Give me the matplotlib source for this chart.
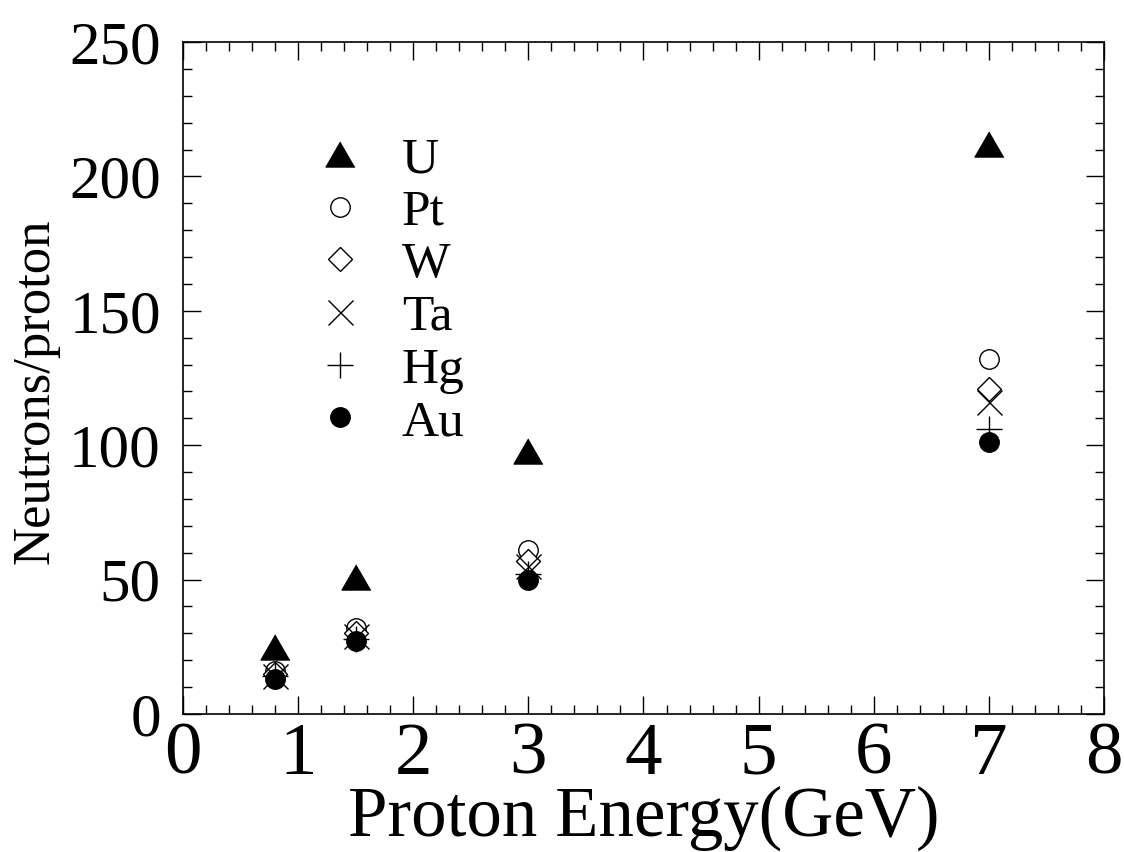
import matplotlib
matplotlib.use("Agg")
import matplotlib.pyplot as plt
from matplotlib.ticker import MultipleLocator
from matplotlib.lines import Line2D

plt.rcParams['font.family'] = ['Liberation Serif', 'DejaVu Serif']

energy = [0.8, 1.5, 3.0, 7.0]
U  = [25, 51, 98, 212]
Pt = [16, 32, 61, 132]
W  = [15, 30, 57, 121]
Ta = [14, 29, 55, 116]
Hg = [14, 28, 52, 106]
Au = [13, 27, 50, 101]

labels = ['U', 'Pt', 'W', 'Ta', 'Hg', 'Au']
series = [U, Pt, W, Ta, Hg, Au]

tri = [(0, 0.5), (-0.577, -0.5), (0.577, -0.5)]
styles = [
    dict(marker=tri, ms=21, mfc='black', mec='black', mew=0.8),
    dict(marker='o', ms=14, mfc='white', mec='black', mew=1.0),
    dict(marker='D', ms=12.5, mfc='white', mec='black', mew=1.0),
    dict(marker='x', ms=18, mfc='none', mec='black', mew=1.0),
    dict(marker='+', ms=19, mfc='none', mec='black', mew=1.0),
    dict(marker='o', ms=14, mfc='black', mec='black', mew=1.0),
]

fig = plt.figure(figsize=(11.24, 8.52), dpi=100)
ax = fig.add_axes([0.1628, 0.1620, 0.8194, 0.7887])

handles = []
for lab, ys, st in zip(labels, series, styles):
    ax.plot(energy, ys, linestyle='none', color='black', **st)
    handles.append(Line2D([], [], linestyle='none', color='black', **st))

ax.set_xlim(0, 8)
ax.set_ylim(0, 250)
ax.xaxis.set_major_locator(MultipleLocator(1))
ax.xaxis.set_minor_locator(MultipleLocator(0.2))
ax.yaxis.set_major_locator(MultipleLocator(50))
ax.yaxis.set_minor_locator(MultipleLocator(10))

ax.tick_params(which='both', direction='in', top=True, right=True, width=1.0, color='black')
ax.tick_params(which='major', length=13)
ax.tick_params(which='minor', length=6.5)
ax.tick_params(axis='x', which='major', labelsize=54, pad=6)
ax.tick_params(axis='y', which='major', labelsize=44, pad=16)
for sp in ax.spines.values():
    sp.set_linewidth(1.2)

ax.set_xlabel('Proton Energy(GeV)', fontsize=51, labelpad=-3)
ax.set_ylabel('Neutrons/proton', fontsize=38)
ax.yaxis.set_label_coords(-0.134, 0.48)

leg = ax.legend(handles, labels, loc='upper left', bbox_to_anchor=(0.1426, 0.86),
                frameon=False, fontsize=37, handlelength=1.0, handletextpad=0.70,
                labelspacing=0.11, borderpad=0, borderaxespad=0)

fig.savefig('out.png', dpi=100)
